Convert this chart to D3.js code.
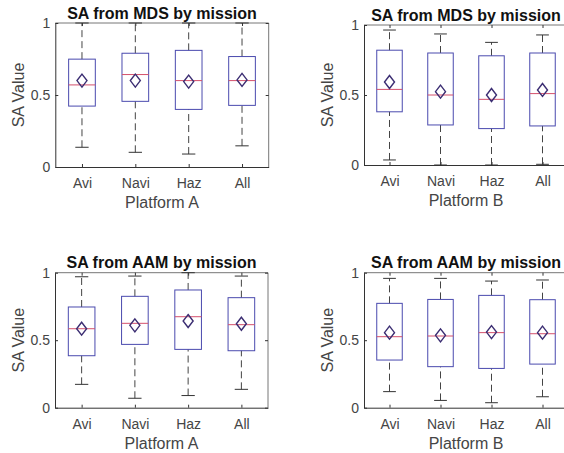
<!DOCTYPE html>
<html lang="en">
<head>
<meta charset="UTF-8">
<title>SA by mission</title>
<script src="https://d3js.org/d3.v7.min.js"></script>
<style>
  html, body { margin: 0; background: #fff; }
  body { font-family: "Liberation Sans", Arial, sans-serif; }
  .tick text { fill: #454545; font-size: 14px; font-family: "Liberation Sans", Arial, sans-serif; }
  .tick line { stroke: #333; }
  .domain { stroke: #333; }
</style>
</head>
<body>
<div id="chart"></div>
<script>
  const missions = ["Avi", "Navi", "Haz", "All"];

  // each row: [lower whisker, q1, median, q3, upper whisker, mean]
  const mdsPlatformA = [
    [0.137, 0.423, 0.570, 0.749, 1.000, 0.600],
    [0.102, 0.456, 0.642, 0.790, 1.000, 0.600],
    [0.090, 0.400, 0.600, 0.810, 1.000, 0.593],
    [0.147, 0.428, 0.600, 0.767, 1.000, 0.605]
  ];
  const mdsPlatformB = [
    [0.036, 0.380, 0.540, 0.820, 0.964, 0.593],
    [0.000, 0.286, 0.500, 0.800, 0.936, 0.524],
    [0.000, 0.260, 0.469, 0.780, 0.876, 0.500],
    [0.005, 0.279, 0.510, 0.800, 0.929, 0.536]
  ];
  const aamPlatformA = [
    [0.173, 0.385, 0.585, 0.746, 0.970, 0.585],
    [0.070, 0.469, 0.625, 0.825, 0.975, 0.610],
    [0.090, 0.432, 0.674, 0.872, 1.000, 0.642],
    [0.136, 0.422, 0.615, 0.815, 0.975, 0.622]
  ];
  const aamPlatformB = [
    [0.119, 0.353, 0.526, 0.773, 0.958, 0.556],
    [0.054, 0.304, 0.531, 0.802, 0.958, 0.536],
    [0.037, 0.291, 0.556, 0.832, 0.938, 0.560],
    [0.081, 0.323, 0.548, 0.800, 0.946, 0.556]
  ];
  const yTicks = [0, 0.5, 1];

  const W = 564, H = 453;
  const svg = d3.select("#chart").append("svg")
    .attr("width", W).attr("height", H);

  const panels = [
    { title: "SA from MDS by mission", xlabel: "Platform A", data: mdsPlatformA, x0: 55.3, x1: 268.7, y0: 23, y1: 167 },
    { title: "SA from MDS by mission", xlabel: "Platform B", data: mdsPlatformB, x0: 364, x1: 568, y0: 25, y1: 165 },
    { title: "SA from AAM by mission", xlabel: "Platform A", data: aamPlatformA, x0: 55, x1: 268, y0: 272.7, y1: 407.7 },
    { title: "SA from AAM by mission", xlabel: "Platform B", data: aamPlatformB, x0: 364, x1: 568, y0: 272.7, y1: 407.7 }
  ];

  const drawPanel = (p) => {
    const x = d3.scalePoint().domain(missions).range([p.x0, p.x1]).padding(0.5);
    const y = d3.scaleLinear().domain([0, 1]).range([p.y1, p.y0]);
    const boxW = x.step() * 0.5;
    const capW = x.step() * 0.125;

    const g = svg.append("g");

    // frame: top and right, lighter
    g.append("line").attr("x1", p.x0).attr("x2", p.x1).attr("y1", p.y0).attr("y2", p.y0)
      .attr("stroke", "#777");
    g.append("line").attr("x1", p.x1).attr("x2", p.x1).attr("y1", p.y0).attr("y2", p.y1)
      .attr("stroke", "#777");

    // right and top inside ticks
    g.append("g").attr("transform", `translate(${p.x1},0)`)
      .call(d3.axisRight(y).tickValues(yTicks).tickSize(-3).tickSizeOuter(0).tickFormat(""))
      .call(a => a.select(".domain").remove());
    g.append("g").attr("transform", `translate(0,${p.y0})`)
      .call(d3.axisTop(x).tickSize(-3).tickSizeOuter(0).tickFormat(""))
      .call(a => a.select(".domain").remove());

    g.append("g").attr("transform", `translate(${p.x0},0)`)
      .call(d3.axisLeft(y).tickValues(yTicks).tickSize(-3).tickSizeOuter(0)
        .tickPadding(5).tickFormat(d3.format("~g")));
    g.append("g").attr("transform", `translate(0,${p.y1})`)
      .call(d3.axisBottom(x).tickSize(-3).tickSizeOuter(0).tickPadding(11));

    const box = g.selectAll(".box").data(p.data).enter().append("g")
      .attr("transform", (d, i) => `translate(${x(missions[i])},0)`);

    // whiskers
    box.append("line").attr("y1", d => y(d[0])).attr("y2", d => y(d[1]))
      .attr("stroke", "#444").attr("stroke-dasharray", "7,4");
    box.append("line").attr("y1", d => y(d[3])).attr("y2", d => y(d[4]))
      .attr("stroke", "#444").attr("stroke-dasharray", "7,4");
    box.append("line").attr("x1", -capW).attr("x2", capW)
      .attr("y1", d => y(d[0])).attr("y2", d => y(d[0])).attr("stroke", "#333");
    box.append("line").attr("x1", -capW).attr("x2", capW)
      .attr("y1", d => y(d[4])).attr("y2", d => y(d[4])).attr("stroke", "#333");

    box.append("rect")
      .attr("x", -boxW / 2).attr("width", boxW)
      .attr("y", d => y(d[3])).attr("height", d => y(d[1]) - y(d[3]))
      .attr("fill", "none").attr("stroke", "#4a4aae");

    box.append("line").attr("x1", -boxW / 2).attr("x2", boxW / 2)
      .attr("y1", d => y(d[2])).attr("y2", d => y(d[2]))
      .attr("stroke", "#d4506c");

    box.append("path")
      .attr("d", d => {
        const cy = y(d[5]);
        return `M0,${cy - 6.5}L5,${cy}L0,${cy + 6.5}L-5,${cy}Z`;
      })
      .attr("fill", "none").attr("stroke", "#3b2d72").attr("stroke-width", 1.4);

    const cx = (p.x0 + p.x1) / 2;
    g.append("text").attr("x", cx).attr("y", p.y0 - 4.5)
      .attr("text-anchor", "middle").attr("font-weight", "bold")
      .attr("font-size", 16).attr("fill", "#111").text(p.title);
    g.append("text").attr("x", cx).attr("y", p.y1 + 41)
      .attr("text-anchor", "middle").attr("font-size", 16)
      .attr("fill", "#454545").text(p.xlabel);
    g.append("text")
      .attr("transform", `translate(${p.x0 - 31},${(p.y0 + p.y1) / 2}) rotate(-90)`)
      .attr("text-anchor", "middle").attr("font-size", 16)
      .attr("fill", "#454545").text("SA Value");
  };

  panels.forEach(drawPanel);
</script>
</body>
</html>
